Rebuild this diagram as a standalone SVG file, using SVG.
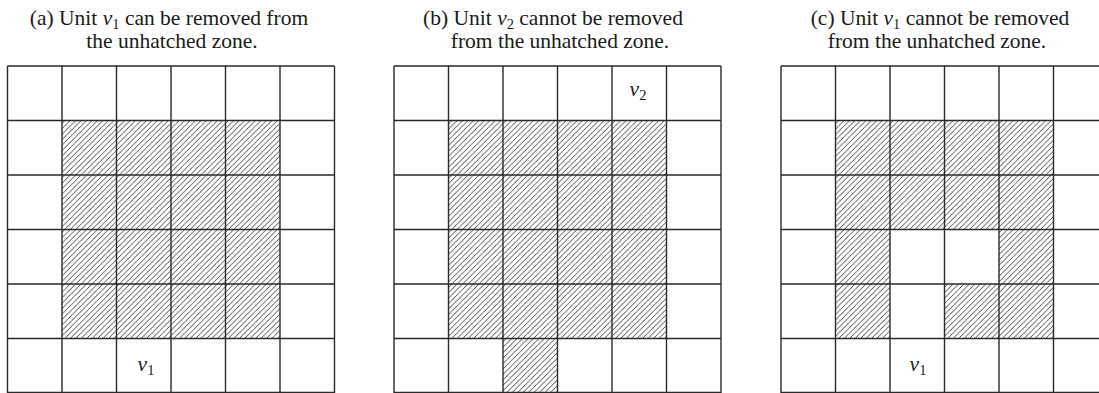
<svg xmlns="http://www.w3.org/2000/svg" width="1099" height="393" viewBox="0 0 1099 393">
<style>
text{font-family:"Liberation Serif","Times New Roman",serif;fill:#1a1a1a;}
.title{font-size:21.5px;text-anchor:middle;}
.lbl{font-size:21.5px;text-anchor:middle;}
.it{font-style:italic;}
.sub{font-size:14.5px;}
.grid{fill:none;stroke:#2a2a2a;stroke-width:1.4;}
.hatch{fill:url(#hatch);stroke:none;}
</style>
<defs>
<pattern id="hatch" patternUnits="userSpaceOnUse" width="5.45" height="5.45">
<path d="M-1,1 L1,-1 M0,5.45 L5.45,0 M4.45,6.45 L6.45,4.45" stroke="#333" stroke-width="0.9"/>
</pattern>
</defs>
<rect width="1099" height="393" fill="#fff"/>

<g id="panel-a">
<text class="title" x="169" y="24.5">(a) Unit <tspan class="it">v</tspan><tspan class="sub" dy="4">1</tspan><tspan dy="-4"> can be removed from</tspan></text>
<text class="title" x="172" y="48">the unhatched zone.</text>
<rect class="hatch" x="62" y="120.5" width="218" height="218"/>
<path class="grid" d="M7.5,66V393M62,66V393M116.5,66V393M171,66V393M225.5,66V393M280,66V393M334.5,66V393M7.5,66H334.5M7.5,120.5H334.5M7.5,175H334.5M7.5,229.5H334.5M7.5,284H334.5M7.5,338.5H334.5M7.5,392.5H334.5"/>
<text class="lbl" x="146" y="370.5"><tspan class="it">v</tspan><tspan class="sub" dy="4">1</tspan></text>
</g>

<g id="panel-b">
<text class="title" x="553" y="24.5">(b) Unit <tspan class="it">v</tspan><tspan class="sub" dy="4">2</tspan><tspan dy="-4"> cannot be removed</tspan></text>
<text class="title" x="560" y="48">from the unhatched zone.</text>
<rect class="hatch" x="448.5" y="120.5" width="218" height="218"/>
<rect class="hatch" x="503" y="338.5" width="54.5" height="54.5"/>
<path class="grid" d="M394,66V393M448.5,66V393M503,66V393M557.5,66V393M612,66V393M666.5,66V393M721,66V393M394,66H721M394,120.5H721M394,175H721M394,229.5H721M394,284H721M394,338.5H721M394,392.5H721"/>
<text class="lbl" x="638" y="96"><tspan class="it">v</tspan><tspan class="sub" dy="4">2</tspan></text>
</g>

<g id="panel-c">
<text class="title" x="940" y="24.5">(c) Unit <tspan class="it">v</tspan><tspan class="sub" dy="4">1</tspan><tspan dy="-4"> cannot be removed</tspan></text>
<text class="title" x="937" y="48">from the unhatched zone.</text>
<rect class="hatch" x="835.5" y="120.5" width="218" height="109"/>
<rect class="hatch" x="835.5" y="229.5" width="54.5" height="109"/>
<rect class="hatch" x="999" y="229.5" width="54.5" height="109"/>
<rect class="hatch" x="944.5" y="284" width="54.5" height="54.5"/>
<path class="grid" d="M781,66V393M835.5,66V393M890,66V393M944.5,66V393M999,66V393M1053.5,66V393M1108,66V393M781,66H1108M781,120.5H1108M781,175H1108M781,229.5H1108M781,284H1108M781,338.5H1108M781,392.5H1108"/>
<text class="lbl" x="918" y="370.5"><tspan class="it">v</tspan><tspan class="sub" dy="4">1</tspan></text>
</g>
</svg>
